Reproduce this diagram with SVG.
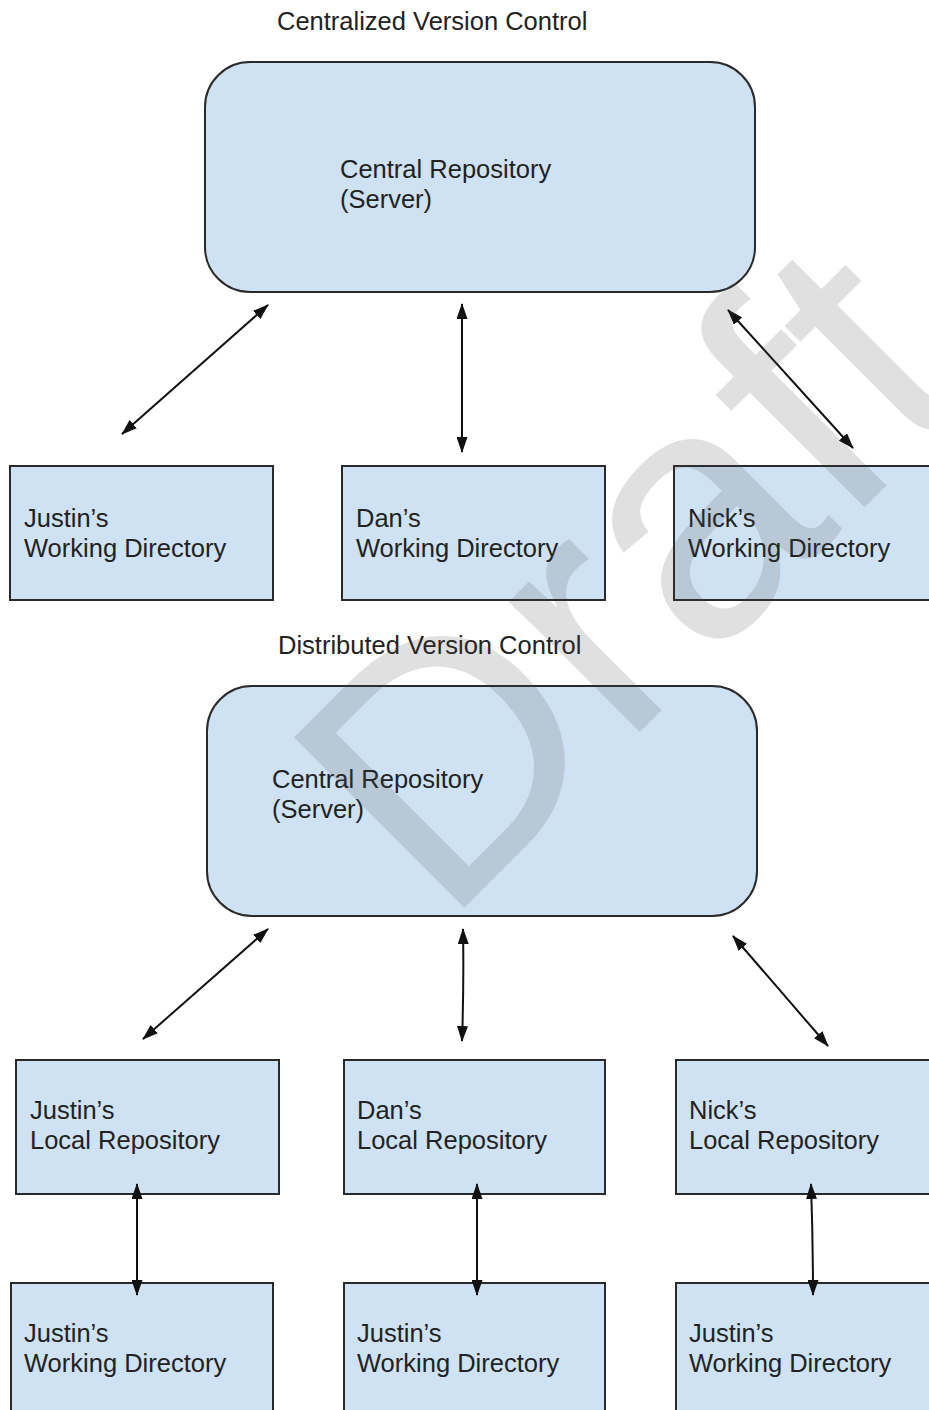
<svg xmlns="http://www.w3.org/2000/svg" width="929" height="1410" viewBox="0 0 929 1410">
<style>
.box{fill:#cfe2f3;stroke:#2a2a2a;stroke-width:2}
.t{font-family:"Liberation Sans",Arial,sans-serif;font-size:25.5px;fill:#222}
.c{stroke:#111;stroke-width:2;fill:none;marker-start:url(#ah);marker-end:url(#ah)}
.wm{font-family:"Liberation Sans",Arial,sans-serif;font-size:350px;fill:#454545;fill-opacity:0.17}
</style>
<defs>
<marker id="ah" viewBox="0 0 16 11" refX="15" refY="5.5" markerWidth="16" markerHeight="11" markerUnits="userSpaceOnUse" orient="auto-start-reverse">
<path d="M0,0 L16,5.5 L0,11 z" fill="#111"/>
</marker>
</defs>
<rect width="929" height="1410" fill="#fff"/>

<text class="t" x="277" y="30">Centralized Version Control</text>
<text class="t" x="278" y="654">Distributed Version Control</text>

<g id="central1">
<rect class="box" x="205" y="62" width="550" height="230" rx="45" ry="45"/>
<text class="t" x="340" y="178">Central Repository</text>
<text class="t" x="340" y="208">(Server)</text>
</g>
<g id="justin-wd1">
<rect class="box" x="10" y="466" width="263" height="134"/>
<text class="t" x="24" y="527">Justin’s</text>
<text class="t" x="24" y="557">Working Directory</text>
</g>
<g id="dan-wd1">
<rect class="box" x="342" y="466" width="263" height="134"/>
<text class="t" x="356" y="527">Dan’s</text>
<text class="t" x="356" y="557">Working Directory</text>
</g>
<g id="nick-wd1">
<rect class="box" x="674" y="466" width="270" height="134"/>
<text class="t" x="688" y="527">Nick’s</text>
<text class="t" x="688" y="557">Working Directory</text>
</g>

<g id="central2">
<rect class="box" x="207" y="686" width="550" height="230" rx="45" ry="45"/>
<text class="t" x="272" y="788">Central Repository</text>
<text class="t" x="272" y="818">(Server)</text>
</g>
<g id="justin-lr">
<rect class="box" x="16" y="1060" width="263" height="134"/>
<text class="t" x="30" y="1119">Justin’s</text>
<text class="t" x="30" y="1149">Local Repository</text>
</g>
<g id="dan-lr">
<rect class="box" x="344" y="1060" width="261" height="134"/>
<text class="t" x="357" y="1119">Dan’s</text>
<text class="t" x="357" y="1149">Local Repository</text>
</g>
<g id="nick-lr">
<rect class="box" x="676" y="1060" width="270" height="134"/>
<text class="t" x="689" y="1119">Nick’s</text>
<text class="t" x="689" y="1149">Local Repository</text>
</g>
<g id="justin-wd2">
<rect class="box" x="11" y="1283" width="262" height="140"/>
<text class="t" x="24" y="1342">Justin’s</text>
<text class="t" x="24" y="1372">Working Directory</text>
</g>
<g id="dan-wd2">
<rect class="box" x="344" y="1283" width="261" height="140"/>
<text class="t" x="357" y="1342">Justin’s</text>
<text class="t" x="357" y="1372">Working Directory</text>
</g>
<g id="nick-wd2">
<rect class="box" x="676" y="1283" width="270" height="140"/>
<text class="t" x="689" y="1342">Justin’s</text>
<text class="t" x="689" y="1372">Working Directory</text>
</g>

<g id="connectors">
<line class="c" x1="268" y1="305" x2="122" y2="434"/>
<line class="c" x1="462" y1="304" x2="462" y2="452"/>
<line class="c" x1="728" y1="310" x2="853" y2="448"/>
<line class="c" x1="268" y1="929" x2="143" y2="1039"/>
<path class="c" d="M463,929 Q464,985 462,1041"/>
<line class="c" x1="733" y1="936" x2="828" y2="1046"/>
<line class="c" x1="137" y1="1184" x2="137" y2="1295"/>
<line class="c" x1="477" y1="1184" x2="477" y2="1295"/>
<path class="c" d="M811,1184 Q813,1240 813,1295"/>
</g>

<text class="wm" transform="translate(444,928) rotate(-45)">Draft</text>
</svg>
